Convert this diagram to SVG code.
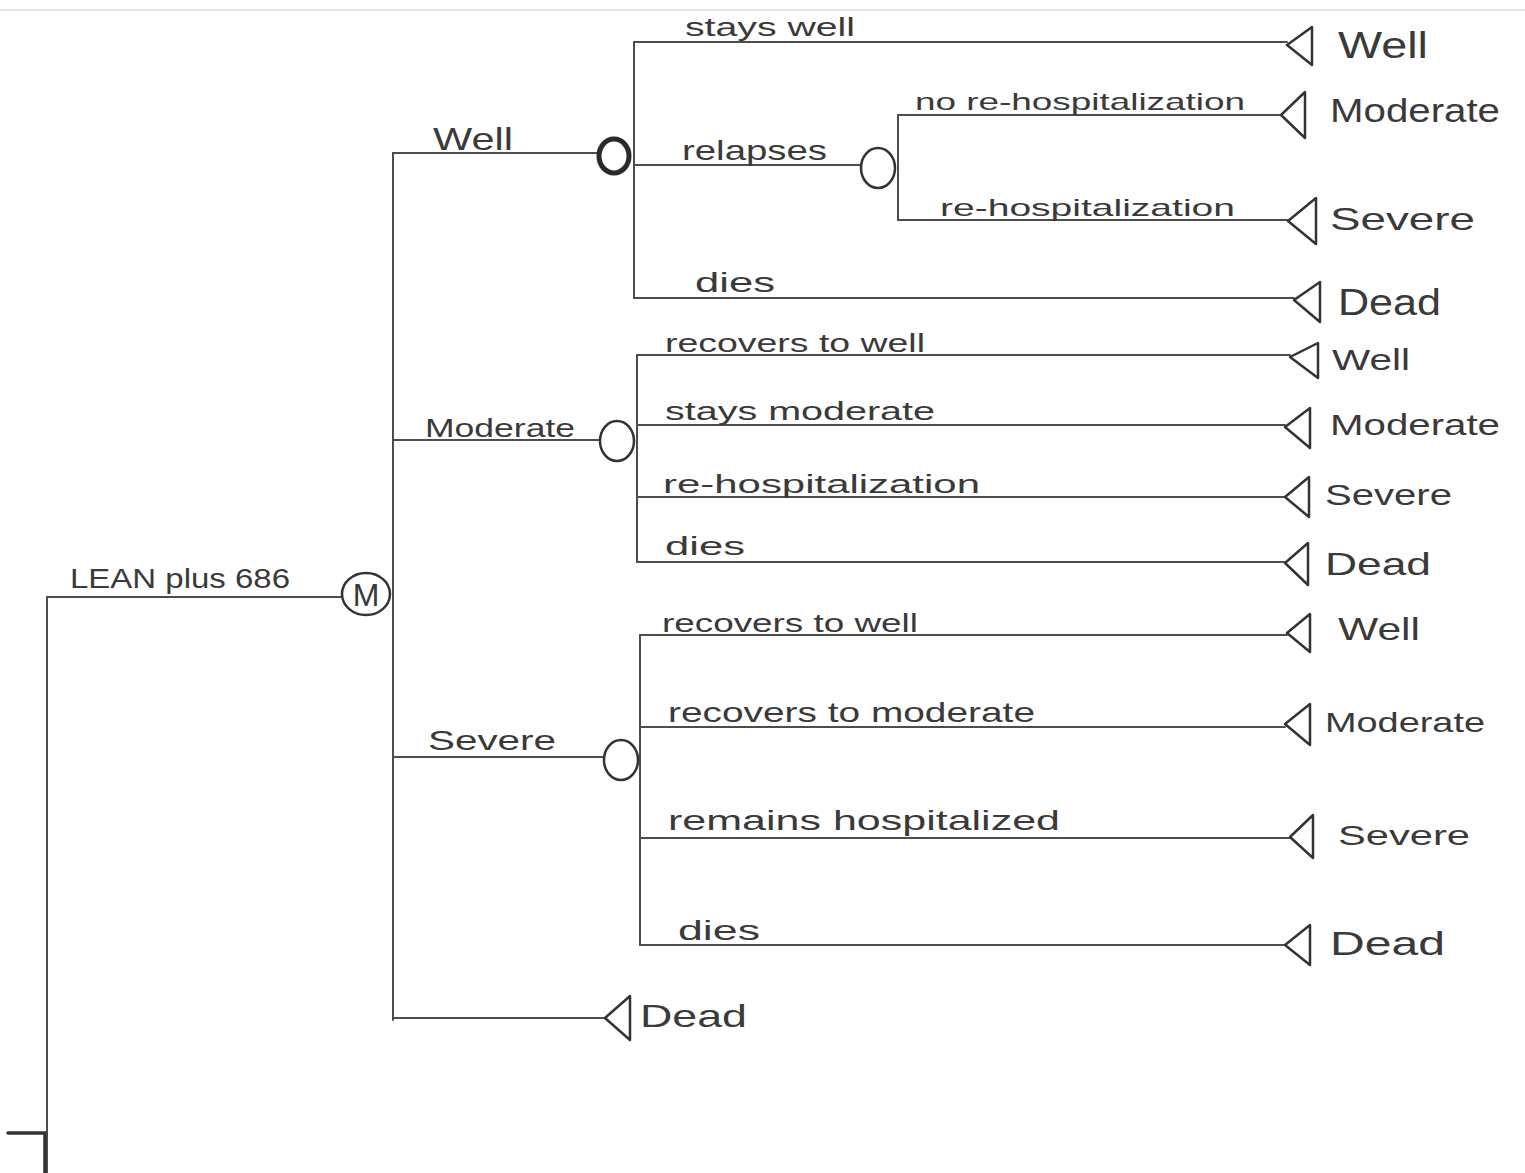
<svg xmlns="http://www.w3.org/2000/svg" width="1525" height="1173" viewBox="0 0 1525 1173">
<style>
.ln{stroke:#4d4d4d;stroke-width:2;fill:none;stroke-linecap:round}
.ch{fill:#fff;stroke:#333;stroke-width:2.5}
.tm{fill:#fff;stroke:#333;stroke-width:2.5;stroke-linejoin:round}
.t{font-family:"Liberation Sans","DejaVu Sans",sans-serif;fill:#3a3a3a}
</style>
<rect x="0" y="0" width="1525" height="1173" fill="#fff"/>
<line x1="0" y1="10" x2="1525" y2="10" stroke="#e6e6e6" stroke-width="2"/>
<g id="connectors">
  <path class="ln" d="M47,1173 V597 H342"/>
  <path class="ln" d="M8,1133 H45 V1173" style="stroke-width:3.5;stroke:#333"/>
  <path class="ln" d="M393,153 V1020"/>
  <path class="ln" d="M393,153 H598"/>
  <path class="ln" d="M393,440 H600"/>
  <path class="ln" d="M393,757 H604"/>
  <path class="ln" d="M393,1018 H605"/>
  <path class="ln" d="M634,42 V298"/>
  <path class="ln" d="M634,42 H1287"/>
  <path class="ln" d="M634,165 H861"/>
  <path class="ln" d="M634,298 H1294"/>
  <path class="ln" d="M898,115 V220"/>
  <path class="ln" d="M898,115 H1281"/>
  <path class="ln" d="M898,220 H1288"/>
  <path class="ln" d="M637,355 V562"/>
  <path class="ln" d="M637,355 H1290"/>
  <path class="ln" d="M637,425 H1285"/>
  <path class="ln" d="M637,497 H1285"/>
  <path class="ln" d="M637,562 H1285"/>
  <path class="ln" d="M640,635 V945"/>
  <path class="ln" d="M640,635 H1287"/>
  <path class="ln" d="M640,727 H1285"/>
  <path class="ln" d="M640,838 H1290"/>
  <path class="ln" d="M640,945 H1285"/>
</g>
<g id="root">
  <text class="t" x="70" y="588" font-size="28" textLength="220" lengthAdjust="spacingAndGlyphs">LEAN plus 686</text>
</g>
<g id="markov">
  <ellipse class="ch" cx="366" cy="594" rx="24" ry="21"/>
  <text class="t" x="366" y="606" font-size="32" text-anchor="middle">M</text>
</g>
<g id="well-state">
  <text class="t" x="433" y="150" font-size="32" textLength="80" lengthAdjust="spacingAndGlyphs">Well</text>
  <ellipse class="ch" cx="614" cy="156" rx="15" ry="17" style="stroke-width:5;stroke:#2a2a2a"/>
</g>
<g id="well-stays">
  <text class="t" x="685" y="36" font-size="26" textLength="170" lengthAdjust="spacingAndGlyphs">stays well</text>
  <polygon class="tm" points="1287,45 1312,27 1312,65"/>
  <text class="t" x="1338" y="58" font-size="36" textLength="90" lengthAdjust="spacingAndGlyphs">Well</text>
</g>
<g id="well-relapses">
  <text class="t" x="682" y="160" font-size="28" textLength="145" lengthAdjust="spacingAndGlyphs">relapses</text>
  <ellipse class="ch" cx="878" cy="168" rx="17" ry="20"/>
</g>
<g id="relapse-no-rehosp">
  <text class="t" x="915" y="110" font-size="24" textLength="330" lengthAdjust="spacingAndGlyphs">no re-hospitalization</text>
  <polygon class="tm" points="1281,115 1305,92 1305,138"/>
  <text class="t" x="1330" y="122" font-size="34" textLength="170" lengthAdjust="spacingAndGlyphs">Moderate</text>
</g>
<g id="relapse-rehosp">
  <text class="t" x="940" y="216" font-size="24" textLength="295" lengthAdjust="spacingAndGlyphs">re-hospitalization</text>
  <polygon class="tm" points="1288,221 1316,198 1316,244"/>
  <text class="t" x="1330" y="230" font-size="32" textLength="145" lengthAdjust="spacingAndGlyphs">Severe</text>
</g>
<g id="well-dies">
  <text class="t" x="695" y="292" font-size="28" textLength="80" lengthAdjust="spacingAndGlyphs">dies</text>
  <polygon class="tm" points="1294,300 1320,282 1320,322"/>
  <text class="t" x="1338" y="315" font-size="36" textLength="103" lengthAdjust="spacingAndGlyphs">Dead</text>
</g>
<g id="moderate-state">
  <text class="t" x="425" y="437" font-size="26" textLength="150" lengthAdjust="spacingAndGlyphs">Moderate</text>
  <ellipse class="ch" cx="617" cy="441" rx="17" ry="20"/>
</g>
<g id="mod-recovers">
  <text class="t" x="665" y="352" font-size="26" textLength="260" lengthAdjust="spacingAndGlyphs">recovers to well</text>
  <polygon class="tm" points="1290,357 1318,343 1318,378"/>
  <text class="t" x="1332" y="370" font-size="30" textLength="78" lengthAdjust="spacingAndGlyphs">Well</text>
</g>
<g id="mod-stays">
  <text class="t" x="665" y="420" font-size="26" textLength="270" lengthAdjust="spacingAndGlyphs">stays moderate</text>
  <polygon class="tm" points="1285,427 1310,408 1310,448"/>
  <text class="t" x="1330" y="435" font-size="30" textLength="170" lengthAdjust="spacingAndGlyphs">Moderate</text>
</g>
<g id="mod-rehosp">
  <text class="t" x="663" y="493" font-size="26" textLength="317" lengthAdjust="spacingAndGlyphs">re-hospitalization</text>
  <polygon class="tm" points="1285,497 1309,477 1309,517"/>
  <text class="t" x="1325" y="505" font-size="30" textLength="127" lengthAdjust="spacingAndGlyphs">Severe</text>
</g>
<g id="mod-dies">
  <text class="t" x="665" y="555" font-size="26" textLength="80" lengthAdjust="spacingAndGlyphs">dies</text>
  <polygon class="tm" points="1285,563 1308,543 1308,585"/>
  <text class="t" x="1325" y="575" font-size="32" textLength="106" lengthAdjust="spacingAndGlyphs">Dead</text>
</g>
<g id="severe-state">
  <text class="t" x="428" y="750" font-size="28" textLength="128" lengthAdjust="spacingAndGlyphs">Severe</text>
  <ellipse class="ch" cx="621" cy="760" rx="17" ry="20"/>
</g>
<g id="sev-to-well">
  <text class="t" x="662" y="632" font-size="26" textLength="256" lengthAdjust="spacingAndGlyphs">recovers to well</text>
  <polygon class="tm" points="1287,633 1310,614 1310,652"/>
  <text class="t" x="1338" y="640" font-size="32" textLength="82" lengthAdjust="spacingAndGlyphs">Well</text>
</g>
<g id="sev-to-moderate">
  <text class="t" x="668" y="722" font-size="28" textLength="367" lengthAdjust="spacingAndGlyphs">recovers to moderate</text>
  <polygon class="tm" points="1285,724 1310,704 1310,745"/>
  <text class="t" x="1325" y="732" font-size="28" textLength="160" lengthAdjust="spacingAndGlyphs">Moderate</text>
</g>
<g id="sev-remains">
  <text class="t" x="668" y="830" font-size="28" textLength="392" lengthAdjust="spacingAndGlyphs">remains hospitalized</text>
  <polygon class="tm" points="1290,837 1313,815 1313,858"/>
  <text class="t" x="1338" y="845" font-size="28" textLength="132" lengthAdjust="spacingAndGlyphs">Severe</text>
</g>
<g id="sev-dies">
  <text class="t" x="678" y="940" font-size="28" textLength="82" lengthAdjust="spacingAndGlyphs">dies</text>
  <polygon class="tm" points="1285,945 1310,925 1310,965"/>
  <text class="t" x="1330" y="955" font-size="34" textLength="115" lengthAdjust="spacingAndGlyphs">Dead</text>
</g>
<g id="dead-state">
  <polygon class="tm" points="605,1018 630,996 630,1040"/>
  <text class="t" x="640" y="1027" font-size="32" textLength="107" lengthAdjust="spacingAndGlyphs">Dead</text>
</g>
</svg>
